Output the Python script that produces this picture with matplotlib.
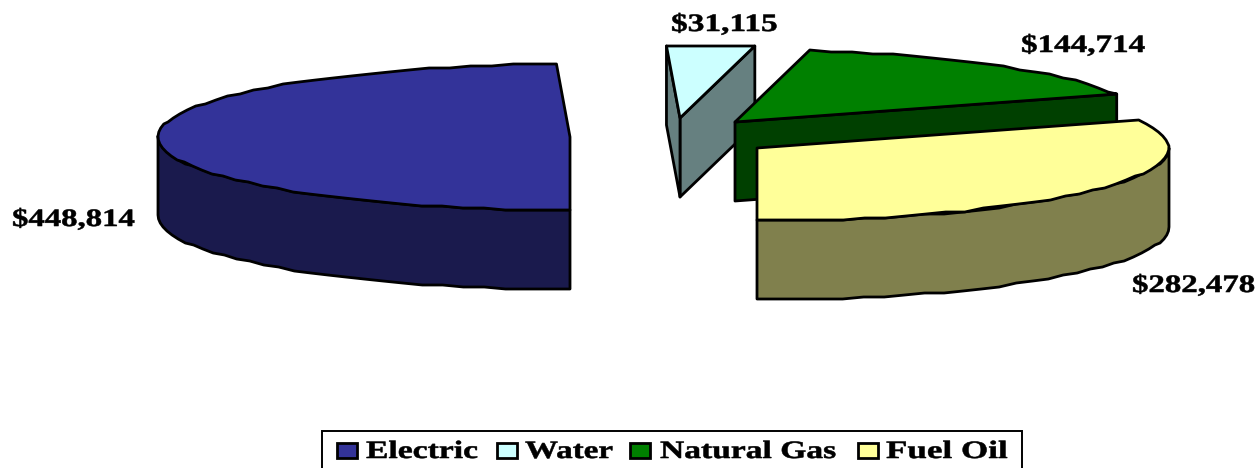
import matplotlib
matplotlib.use('Agg')
import matplotlib.pyplot as plt
import matplotlib.patheffects as pe
from matplotlib.patches import Rectangle
from matplotlib.transforms import Affine2D
import numpy as np

# Data
categories = ['Electric', 'Water', 'Natural Gas', 'Fuel Oil']
values = [448814, 31115, 144714, 282478]
value_labels = ['$448,814', '$31,115', '$144,714', '$282,478']
top_colors = ['#333399', '#CCFFFF', '#008000', '#FFFF99']
side_colors = ['#1A1A4D', '#668080', '#004000', '#80804D']

# exploded centre of each slice, in pixels
centers = [(570, 137), (680, 118), (735, 122), (757, 148)]
label_pos = [(12, 226), (671, 31), (1021, 52), (1132, 292)]
label_w = [124, 107, 125, 124]
legend_swatch_x = [337, 497, 630, 858]
legend_text_x = [366, 525, 660, 886]
legend_text_w = [112, 88, 176, 122]

RX, RY, DEPTH = 412, 73, 79
STEP = 3  # degrees between outline points
SNAP = 2  # the original outline is a coarse, stepped polygon


class Stretch(pe.AbstractPathEffect):
    # the original text is stretched sideways
    def __init__(self, x0, sx):
        super().__init__()
        self.x0 = x0
        self.sx = sx

    def draw_path(self, renderer, gc, tpath, affine, rgbFace=None):
        stretch = Affine2D().translate(-self.x0, 0).scale(self.sx, 1).translate(self.x0, 0)
        gc0 = renderer.new_gc()
        gc0.copy_properties(gc)
        gc0.set_linewidth(0.4)
        gc0.set_foreground('black')
        renderer.draw_path(gc0, tpath, affine + stretch, rgbFace)
        gc0.restore()


def rim(cx, cy, a1, a2):
    n = max(int(abs(a2 - a1) / STEP), 1) + 1
    t = np.radians(np.linspace(a1, a2, n))
    xs = cx + RX * np.cos(t)
    ys = cy - RY * np.sin(t)
    return xs, np.round(ys / SNAP) * SNAP


def face(ax, xs, ys, color, zorder):
    ax.fill(xs, ys, facecolor=color, edgecolor='black', linewidth=2.0,
            joinstyle='round', zorder=zorder)


def stretched_text(ax, s, x, y, size, width):
    fig = ax.figure
    t = ax.text(x, y, s, fontsize=size, fontweight='bold', family='Liberation Serif',
                color='black', ha='left', va='baseline', zorder=20)
    natural = t.get_window_extent(fig.canvas.get_renderer()).width
    t.set_path_effects([Stretch(x, width / natural)])
    return t


fig = plt.figure(figsize=(12.58, 4.68), dpi=100)
ax = fig.add_axes([0, 0, 1, 1])
ax.set_xlim(0, 1258)
ax.set_ylim(468, 0)
ax.axis('off')

# slices run clockwise from the bottom of the pie
fractions = np.array(values) / sum(values)
ends = 270 - np.cumsum(fractions) * 360
starts = np.concatenate([[270], ends[:-1]])

for i, (a1, a2) in enumerate(zip(starts, ends)):
    cx, cy = centers[i]
    z = i * 3 + 1
    # outer wall, only the part turned towards the viewer
    low, high = max(a2, -90), min(a1, 270)
    for lo, hi in [(low, min(high, 0)), (max(low, 180), high)]:
        if hi > lo:
            xs, ys = rim(cx, cy, lo, hi)
            face(ax, np.r_[xs, xs[::-1]], np.r_[ys, ys[::-1] + DEPTH], side_colors[i], z)
    # cut walls, seen for the slices at the back
    if i in (1, 2):
        xe, ye = rim(cx, cy, a2, a2)
        face(ax, [cx, xe[0], xe[0], cx], [cy, ye[0], ye[0] + DEPTH, cy + DEPTH], side_colors[i], z)
    if i == 1:
        xs, ys = rim(cx, cy, a1, a1)
        face(ax, [cx, xs[0], xs[0], cx], [cy, ys[0], ys[0] + DEPTH, cy + DEPTH], side_colors[i], z)
    # top
    xs, ys = rim(cx, cy, a1, a2)
    face(ax, np.r_[cx, xs], np.r_[cy, ys], top_colors[i], z + 1)

for s, (x, y), w in zip(value_labels, label_pos, label_w):
    stretched_text(ax, s, x, y, 18, w)

# legend
ax.add_patch(Rectangle((322, 431), 700, 50, facecolor='white', edgecolor='black',
                       linewidth=1.4, zorder=15))
for name, col, sx, tx, tw in zip(categories, top_colors, legend_swatch_x, legend_text_x, legend_text_w):
    ax.add_patch(Rectangle((sx, 443), 20, 15, facecolor=col, edgecolor='black',
                           linewidth=2.0, zorder=16))
    stretched_text(ax, name, tx, 458, 18, tw)

fig.savefig('out.png', dpi=100)
